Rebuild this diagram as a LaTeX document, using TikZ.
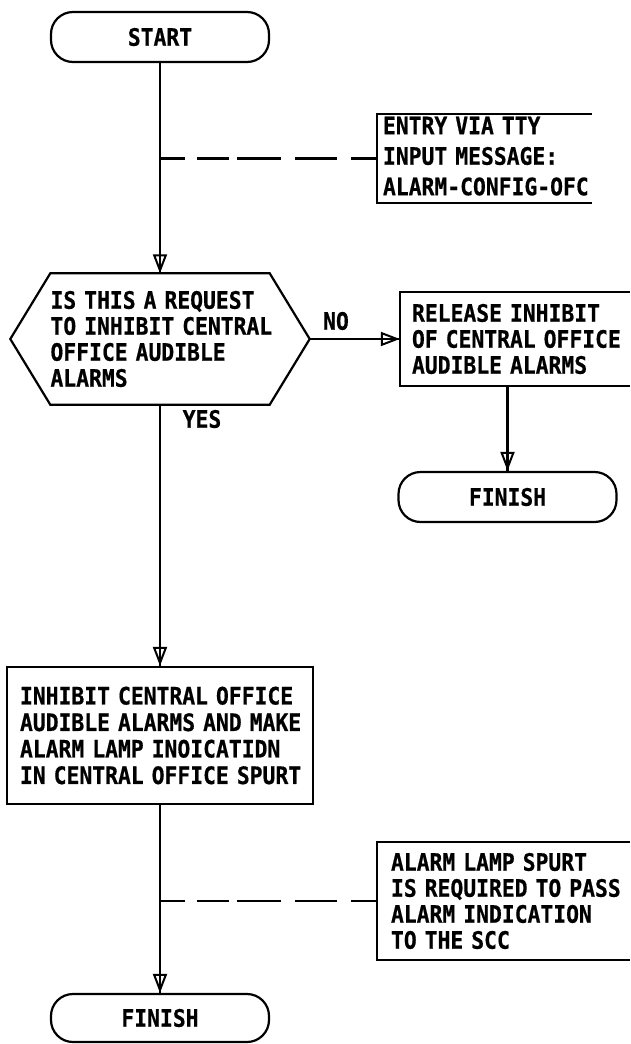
\documentclass[tikz,border=0pt]{standalone}
\usepackage{fontspec}
\newfontfamily\plotfont[FakeStretch=0.89, BoldFeatures={FakeBold=0.6}]{DejaVu Sans Mono}
\usetikzlibrary{arrows.meta,calc}
\newcommand{\oneline}[1]{\mbox{#1}}
\begin{document}
\begin{tikzpicture}[x=1pt,y=-1pt]
\tikzset{
 base/.style={font=\plotfont\bfseries\fontsize{24pt}{26pt}\selectfont},
 ln/.style={line width=2.2pt},
 term/.style={base, draw, ln, rounded corners=22pt, minimum width=218pt, minimum height=50pt, inner sep=0pt},
 boxtext/.style={base, align=left, inner ysep=0pt, anchor=center},
 arr/.style={ln, -{Triangle[open, length=19pt, width=14pt, line width=2pt]}, postaction={draw, ln, -}},
 dashln/.style={ln, dash pattern=on 25pt off 12pt on 32pt off 8pt on 44pt off 14pt on 42pt off 14pt on 40pt},
 lbl/.style={base, inner sep=0pt}
}
\useasboundingbox (0,0) rectangle (630,1044);

% START
\node[term] (start) at (160,37) {START};

% entry box (open to the right)
\node[boxtext, minimum width=215pt, text width=203pt, inner xsep=6pt, minimum height=89pt,
      font=\plotfont\bfseries\fontsize{24pt}{30.5pt}\selectfont] (b1) at (484.5,158.5)
      {\oneline{ENTRY VIA TTY}\\\oneline{INPUT MESSAGE:}\\\oneline{ALARM-CONFIG-OFC}\rule[-5pt]{0pt}{5pt}};
\draw[ln] (b1.north east) -- (b1.north west) -- (b1.south west) -- (b1.south east);

% decision hexagon
\node[boxtext, text width=219pt, inner xsep=0pt, minimum height=131pt] (hex) at (160,339)
      {\oneline{IS THIS A REQUEST}\\\oneline{TO INHIBIT CENTRAL}\\\oneline{OFFICE AUDIBLE}\\\oneline{ALARMS}};
\coordinate (hexL) at ($(hex.west)+(-40pt,0pt)$);
\coordinate (hexR) at ($(hex.east)+(40pt,0pt)$);
\draw[ln] (hex.north west) -- (hex.north east) -- (hexR) -- (hex.south east)
          -- (hex.south west) -- (hexL) -- cycle;

% release box (open to the right)
\node[boxtext, minimum width=230pt, text width=206pt, inner xsep=12pt, minimum height=94pt] (b2) at (515,339)
      {\oneline{RELEASE INHIBIT}\\\oneline{OF CENTRAL OFFICE}\\\oneline{AUDIBLE ALARMS}};
\draw[ln] (b2.north east) -- (b2.north west) -- (b2.south west) -- (b2.south east);

\node[term] (fin1) at (507.5,497) {FINISH};

\node[lbl] (no) at (336,321) {NO};
\node[lbl] (yes) at (202,419) {YES};

% inhibit box
\node[boxtext, draw, ln, minimum width=306pt, text width=280pt, inner xsep=13pt, minimum height=137pt,
      font=\plotfont\bfseries\fontsize{24pt}{26.5pt}\selectfont] (b3) at (160,735.5)
      {\oneline{INHIBIT CENTRAL OFFICE}\\\oneline{AUDIBLE ALARMS AND MAKE}\\\oneline{ALARM LAMP INOICATIDN}\\\oneline{IN CENTRAL OFFICE SPURT}};

% note box (open to the right)
\node[boxtext, minimum width=253pt, text width=225pt, inner xsep=14pt, minimum height=118pt] (b4) at (503.5,901)
      {\oneline{ALARM LAMP SPURT}\\\oneline{IS REQUIRED TO PASS}\\\oneline{ALARM INDICATION}\\\oneline{TO THE SCC}};
\draw[ln] (b4.north east) -- (b4.north west) -- (b4.south west) -- (b4.south east);

\node[term, minimum height=48pt] (fin2) at (160,1018) {FINISH};

% connectors
\draw[arr] (start.south) -- (hex.north);
\coordinate (d1) at (start.south |- b1.west);
\draw[dashln] (d1) -- (b1.west);
\draw[arr] (hexR) -- (b2.west);
\draw[arr] (fin1.north |- b2.south) -- (fin1.north);
\draw[arr] (hex.south) -- (b3.north);
\draw[arr] (b3.south) -- (fin2.north);
\coordinate (d2) at (b3.south |- b4.west);
\draw[dashln] (d2) -- (b4.west);
\end{tikzpicture}
\end{document}
